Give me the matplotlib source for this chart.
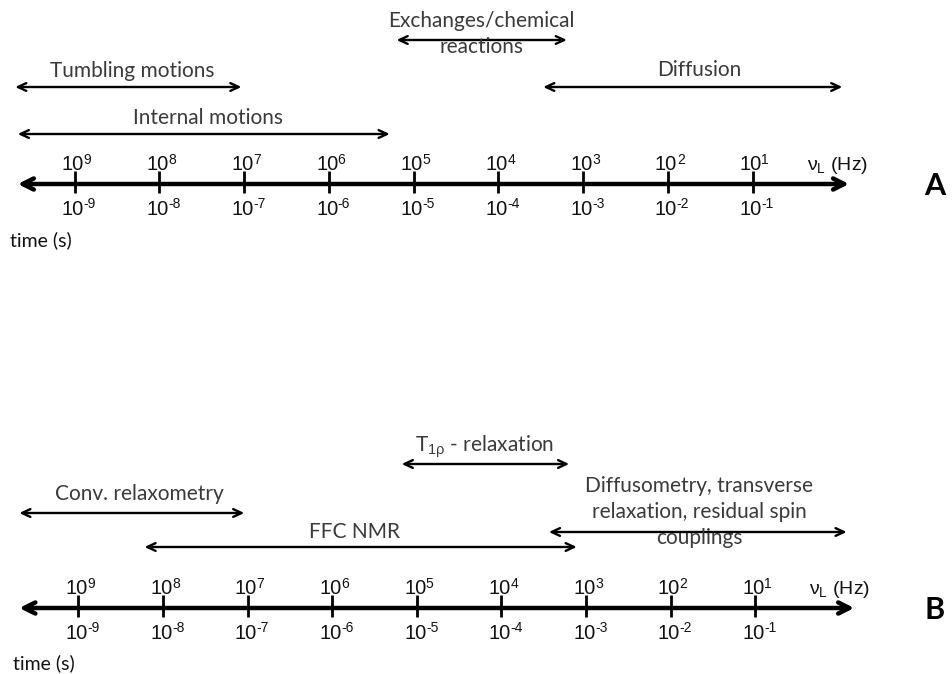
import matplotlib
matplotlib.use("Agg")
import matplotlib.pyplot as plt

# ---------------- data ----------------
freq_exponents = [9, 8, 7, 6, 5, 4, 3, 2, 1]          # nu_L (Hz) = 10^e
time_exponents = [-9, -8, -7, -6, -5, -4, -3, -2, -1]   # time (s) = 10^e

# panel A: processes (label, log10 time start, log10 time end, label centre)
a_labels = ["Tumbling motions", "Internal motions", "Exchanges/chemical\nreactions", "Diffusion"]
a_start = [-9.70, -9.67, -5.20, -3.47]
a_end = [-7.03, -5.28, -3.19, 0.06]
a_label_x = [-8.32, -7.43, -4.20, -1.63]

# panel B: techniques
b_labels = ["T$_{1\\rho}$ - relaxation", "Conv. relaxometry", "FFC NMR",
            "Diffusometry, transverse\nrelaxation, residual spin\ncouplings"]
b_start = [-5.18, -9.70, -8.22, -3.44]
b_end = [-3.20, -7.04, -3.11, 0.08]
b_label_x = [-4.20, -8.28, -5.74, -1.66]

# ---------------- layout ----------------
W, H = 952, 674
fig = plt.figure(figsize=(W / 100, H / 100), dpi=100)
plt.rcParams["mathtext.fontset"] = "custom"
plt.rcParams["mathtext.rm"] = "Liberation Sans"
plt.rcParams["mathtext.it"] = "Liberation Sans"
plt.rcParams["mathtext.sf"] = "Liberation Sans"

LABEL_FONT = "Lato"
TICK_FONT = "Liberation Sans"
TXT_COL = "#3a3a3a"
PPD = {}


def make_axes(rect, ytop, ybot, x0px, px_per_dec):
    ax = fig.add_axes(rect)
    left = -9 - x0px / px_per_dec
    ax.set_xlim(left, left + W / px_per_dec)
    ax.set_ylim(ybot, ytop)
    ax.axis("off")
    PPD[ax] = px_per_dec
    return ax


def power_label(ax, x, base_y, exp_y, base, exp):
    ppd = PPD[ax]
    bx = x + 9.5 / ppd
    ax.text(bx, base_y, base, ha="right", va="baseline", fontsize=14.5,
            family=TICK_FONT, color="#111111")
    ax.text(bx - 0.5 / ppd, exp_y, exp, ha="left", va="baseline", fontsize=10,
            family=TICK_FONT, color="#111111")


def draw_panel(ax, axis_y, ax_start, ax_end, labels, starts, ends, label_x,
               arrow_y, label_y, panel_letter, letter_x, letter_y, time_y):
    ppd = PPD[ax]
    ax.annotate("", xy=(ax_end, axis_y), xytext=(ax_start, axis_y),
                arrowprops=dict(arrowstyle="<->,head_length=0.8,head_width=0.4",
                                lw=3.2, color="black", shrinkA=0, shrinkB=0))
    for fe, te in zip(freq_exponents, time_exponents):
        ax.plot([te, te], [axis_y - 13, axis_y + 9], color="black", lw=2.0,
                solid_capstyle="butt")
        power_label(ax, te, axis_y - 14, axis_y - 20, "10", "%d" % fe)
        power_label(ax, te, axis_y + 31, axis_y + 24, "10", "-%d" % (-te))
    ax.text(0.0, axis_y - 14, r"$\mathrm{\nu}_{\mathrm{L}}$ (Hz)", ha="center",
            va="baseline", fontsize=14, family=TICK_FONT, color="#111111")
    ax.text(-9 + (10 - 75) / ppd, time_y, "time (s)", ha="left", va="center",
            fontsize=14, family=LABEL_FONT, color="#111111")
    ax.text(letter_x, letter_y, panel_letter, ha="center", va="center",
            fontsize=22, fontweight="bold", family=LABEL_FONT, color="black")
    for lab, s, e, lx, ay, ly in zip(labels, starts, ends, label_x, arrow_y, label_y):
        ax.annotate("", xy=(e, ay), xytext=(s, ay),
                    arrowprops=dict(arrowstyle="<->,head_length=0.6,head_width=0.28",
                                    lw=1.7, color="black", shrinkA=0, shrinkB=0))
        ax.text(lx, ly, lab, ha="center", va="center", fontsize=15,
                family=LABEL_FONT, color=TXT_COL, linespacing=1.35)


# Panel A (top half, y in pixels from top)
axA = make_axes([0, 0.5, 1, 0.5], 0, 337, 74.5, 84.75)
draw_panel(axA, 184, -9.67, 0.14, a_labels, a_start, a_end, a_label_x,
           [87, 134, 40, 87], [71, 118, 34, 70], "A", 1.15, 186, 240)

# Panel B (bottom half)
axB = make_axes([0, 0, 1, 0.5], 337, 674, 78.5, 84.6)
draw_panel(axB, 608, -9.70, 0.17, b_labels, b_start, b_end, b_label_x,
           [464, 513, 547, 532], [447, 494, 532, 512], "B", 1.12, 610, 663)

fig.savefig("out.png", dpi=100, facecolor="white")
